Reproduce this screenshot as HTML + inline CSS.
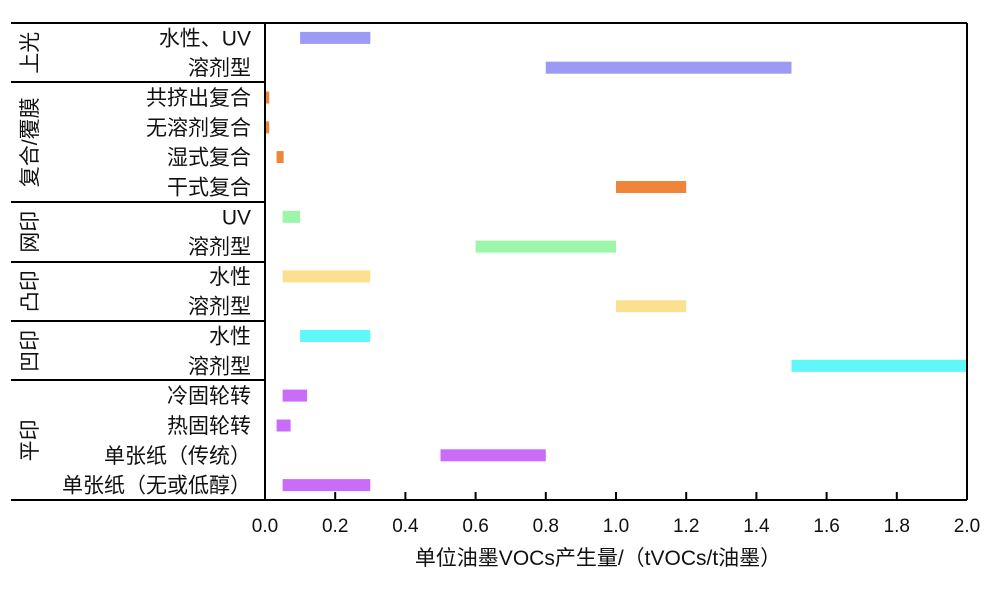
<!DOCTYPE html>
<html><head><meta charset="utf-8"><style>
body{margin:0;background:#fff;}
text{font-family:"Liberation Sans","Noto Sans CJK SC",sans-serif;fill:#111;}
</style></head><body>
<svg width="998" height="592" xmlns="http://www.w3.org/2000/svg">
<rect x="300.1" y="31.9" width="70.2" height="12" fill="#9b9bf5"/>
<rect x="545.8" y="61.7" width="245.7" height="12" fill="#9b9bf5"/>
<rect x="265" y="91.5" width="4.2" height="12" fill="#ef8539"/>
<rect x="265" y="121.3" width="4.2" height="12" fill="#ef8539"/>
<rect x="276.6" y="151.1" width="7" height="12" fill="#ef8539"/>
<rect x="616" y="181" width="70.2" height="12" fill="#ef8539"/>
<rect x="282.6" y="210.8" width="17.5" height="12" fill="#9cf5a8"/>
<rect x="475.6" y="240.6" width="140.4" height="12" fill="#9cf5a8"/>
<rect x="282.6" y="270.4" width="87.7" height="12" fill="#fbe08f"/>
<rect x="616" y="300.2" width="70.2" height="12" fill="#fbe08f"/>
<rect x="300.1" y="330" width="70.2" height="12" fill="#5ff7f7"/>
<rect x="791.5" y="359.8" width="175.5" height="12" fill="#5ff7f7"/>
<rect x="282.6" y="389.6" width="24.5" height="12" fill="#ca6cf7"/>
<rect x="276.6" y="419.5" width="14" height="12" fill="#ca6cf7"/>
<rect x="440.5" y="449.3" width="105.3" height="12" fill="#ca6cf7"/>
<rect x="282.6" y="479.1" width="87.7" height="12" fill="#ca6cf7"/>

<g font-size="21" text-anchor="end">
<text x="251" y="45.4">水性、UV</text>
<text x="251" y="75.2">溶剂型</text>
<text x="251" y="105">共挤出复合</text>
<text x="251" y="134.8">无溶剂复合</text>
<text x="251" y="164.6">湿式复合</text>
<text x="251" y="194.5">干式复合</text>
<text x="251" y="224.3">UV</text>
<text x="251" y="254.1">溶剂型</text>
<text x="251" y="283.9">水性</text>
<text x="251" y="313.7">溶剂型</text>
<text x="251" y="343.5">水性</text>
<text x="251" y="373.3">溶剂型</text>
<text x="251" y="403.1">冷固轮转</text>
<text x="251" y="433">热固轮转</text>
<text x="251" y="462.8">单张纸（传统）</text>
<text x="251" y="492.6">单张纸（无或低醇）</text>
</g>
<g font-size="21" text-anchor="middle">
<text transform="translate(37,52.8) rotate(-90)">上光</text>
<text transform="translate(37,142.3) rotate(-90)">复合/覆膜</text>
<text transform="translate(37,231.7) rotate(-90)">网印</text>
<text transform="translate(37,291.3) rotate(-90)">凸印</text>
<text transform="translate(37,350.9) rotate(-90)">凹印</text>
<text transform="translate(37,440.4) rotate(-90)">平印</text>
</g>
<g stroke="#000" stroke-width="2">
<line x1="11" x2="265" y1="82" y2="82"/>
<line x1="11" x2="265" y1="202" y2="202"/>
<line x1="11" x2="265" y1="262" y2="262"/>
<line x1="11" x2="265" y1="321" y2="321"/>
<line x1="11" x2="265" y1="380" y2="380"/>
<line x1="11" x2="967" y1="23" y2="23"/>
<line x1="11" x2="967" y1="500" y2="500"/>
<line x1="265" x2="265" y1="23" y2="500"/>
<line x1="967" x2="967" y1="23" y2="500"/>
<line x1="335.2" x2="335.2" y1="492" y2="500"/>
<line x1="405.4" x2="405.4" y1="492" y2="500"/>
<line x1="475.6" x2="475.6" y1="492" y2="500"/>
<line x1="545.8" x2="545.8" y1="492" y2="500"/>
<line x1="616" x2="616" y1="492" y2="500"/>
<line x1="686.2" x2="686.2" y1="492" y2="500"/>
<line x1="756.4" x2="756.4" y1="492" y2="500"/>
<line x1="826.6" x2="826.6" y1="492" y2="500"/>
<line x1="896.8" x2="896.8" y1="492" y2="500"/>
</g>
<g font-size="19" text-anchor="middle">
<text x="265" y="532">0.0</text>
<text x="335.2" y="532">0.2</text>
<text x="405.4" y="532">0.4</text>
<text x="475.6" y="532">0.6</text>
<text x="545.8" y="532">0.8</text>
<text x="616" y="532">1.0</text>
<text x="686.2" y="532">1.2</text>
<text x="756.4" y="532">1.4</text>
<text x="826.6" y="532">1.6</text>
<text x="896.8" y="532">1.8</text>
<text x="967" y="532">2.0</text>
</g>
<text x="598" y="565" font-size="21" text-anchor="middle">单位油墨VOCs产生量/（tVOCs/t油墨）</text>
</svg>
</body></html>
